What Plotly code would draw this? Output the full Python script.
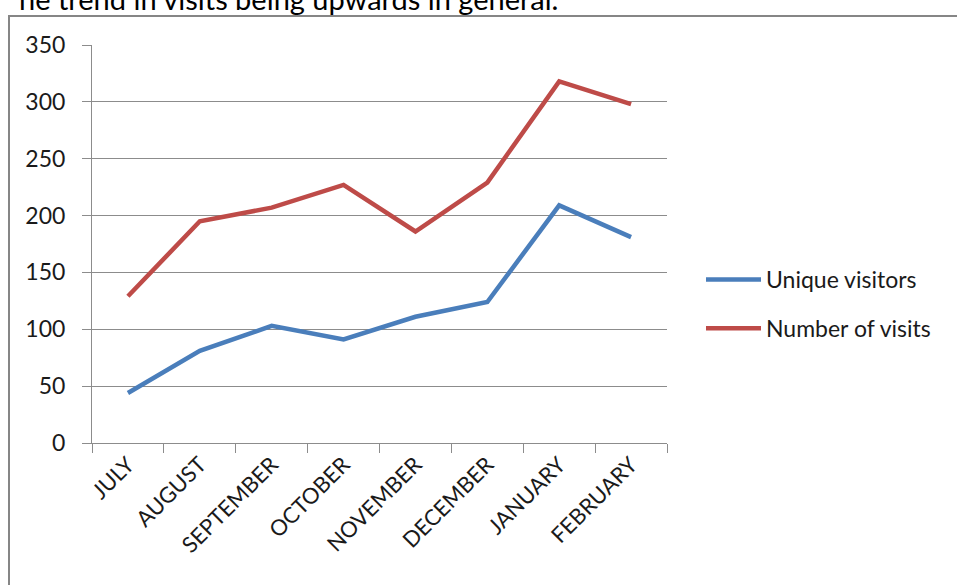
import plotly.graph_objects as go

months = ["JULY", "AUGUST", "SEPTEMBER", "OCTOBER", "NOVEMBER", "DECEMBER", "JANUARY", "FEBRUARY"]
unique_visitors = [44, 81, 103, 91, 111, 124, 209, 181]
number_of_visits = [129, 195, 207, 227, 186, 229, 318, 298]
y_ticks = [0, 50, 100, 150, 200, 250, 300, 350]

W, H = 957, 585
L, R, T, B = 92, 667, 45, 443  # plot area in pixels

def px_x(px):
    return (px - L) / (R - L)

def px_y(py):
    return (B - py) / (B - T)

FONT = "Lato"
GRID = "#8c8c8c"
TXT = "#1a1a1a"

fig = go.Figure()
fig.add_trace(go.Scatter(
    x=months, y=unique_visitors, mode="lines", name="Unique visitors",
    line=dict(color="#4A7EBB", width=4.5), legendgroup="a"))
fig.add_trace(go.Scatter(
    x=months, y=number_of_visits, mode="lines", name="Number of visits",
    line=dict(color="#BE4B48", width=4.5), legendgroup="b"))

fig.update_layout(
    width=W, height=H,
    margin=dict(l=L, r=W - R, t=T, b=H - B),
    paper_bgcolor="white", plot_bgcolor="white",
    font=dict(family=FONT, color=TXT, size=21),
    showlegend=True,
    legend=dict(
        x=px_x(701), y=px_y(304), xanchor="left", yanchor="middle",
        font=dict(family=FONT, size=23, color=TXT),
        traceorder="grouped", tracegroupgap=16,
        bgcolor="rgba(0,0,0,0)", itemwidth=55,
    ),
    xaxis=dict(
        type="category", range=[-0.5, 7.5],
        showgrid=False, showline=True, linecolor=GRID, linewidth=1,
        ticks="outside", tickson="boundaries", ticklen=9, tickcolor=GRID,
        tickangle=-45, tickfont=dict(family=FONT, size=22, color=TXT),
        zeroline=False, ticklabelstandoff=-1,
    ),
    yaxis=dict(
        range=[0, 350], tickvals=y_ticks, ticktext=[str(v) for v in y_ticks],
        showgrid=True, gridcolor=GRID, gridwidth=1,
        showline=True, linecolor=GRID, linewidth=1,
        ticks="outside", ticklen=9, tickcolor=GRID,
        tickfont=dict(family=FONT, size=23, color=TXT),
        zeroline=False, ticklabelstandoff=12,
    ),
    shapes=[
        dict(type="rect", xref="paper", yref="paper",
             x0=px_x(9), x1=px_x(970), y0=px_y(600), y1=px_y(16),
             line=dict(color="#868686", width=2), fillcolor="rgba(0,0,0,0)",
             layer="below"),
    ],
    annotations=[
        dict(text="he trend in visits being upwards in general.",
             xref="paper", yref="paper", x=px_x(17), y=px_y(18),
             xanchor="left", yanchor="bottom", showarrow=False,
             font=dict(family=FONT, size=29, color="#000000")),
    ],
)

fig.write_html("out.html")
